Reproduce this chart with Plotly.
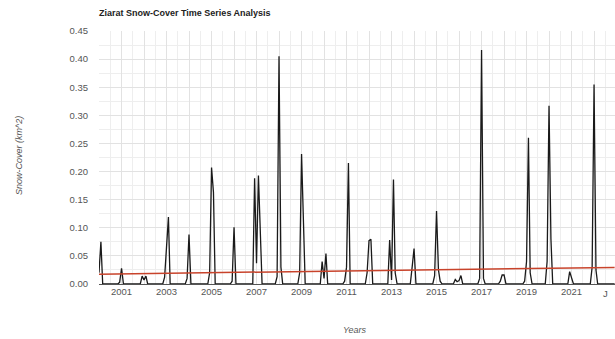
import pandas as pd
import plotly.graph_objects as go

# Monthly snow-cover values (km^2), Jan..Dec for each year
years = list(range(2000, 2023))
snow_2000 = [0.020, 0.075, 0, 0, 0, 0, 0, 0, 0, 0, 0, 0.003]
snow_2001 = [0.028, 0, 0, 0, 0, 0, 0, 0, 0, 0, 0, 0.014]
snow_2002 = [0.007, 0.014, 0, 0, 0, 0, 0, 0, 0, 0, 0, 0.012]
snow_2003 = [0.060, 0.119, 0, 0, 0, 0, 0, 0, 0, 0, 0, 0.010]
snow_2004 = [0.088, 0, 0, 0, 0, 0, 0, 0, 0, 0, 0, 0.020]
snow_2005 = [0.207, 0.163, 0, 0, 0, 0, 0, 0, 0, 0, 0, 0.005]
snow_2006 = [0.101, 0, 0, 0, 0, 0, 0, 0, 0, 0, 0, 0.188]
snow_2007 = [0.037, 0.193, 0.090, 0, 0, 0, 0, 0, 0, 0, 0, 0.013]
snow_2008 = [0.405, 0.030, 0, 0, 0, 0, 0, 0, 0, 0, 0, 0.020]
snow_2009 = [0.231, 0.110, 0, 0, 0, 0, 0, 0, 0, 0, 0, 0.040]
snow_2010 = [0.010, 0.054, 0, 0, 0, 0, 0, 0, 0, 0, 0, 0.005]
snow_2011 = [0.030, 0.215, 0, 0, 0, 0, 0, 0, 0, 0, 0, 0.020]
snow_2012 = [0.077, 0.0795, 0, 0, 0, 0, 0, 0, 0, 0, 0, 0.078]
snow_2013 = [0.007, 0.186, 0.020, 0, 0, 0, 0, 0, 0, 0, 0, 0.030]
snow_2014 = [0.063, 0, 0, 0, 0, 0, 0, 0, 0, 0, 0, 0.015]
snow_2015 = [0.130, 0.025, 0.005, 0, 0, 0, 0, 0, 0, 0, 0.008, 0.004]
snow_2016 = [0.006, 0.015, 0, 0, 0, 0, 0, 0, 0, 0, 0, 0.010]
snow_2017 = [0.416, 0.010, 0, 0, 0, 0, 0, 0, 0, 0, 0.005, 0.016]
snow_2018 = [0.016, 0, 0, 0, 0, 0, 0, 0, 0, 0, 0, 0.005]
snow_2019 = [0.040, 0.260, 0.020, 0, 0, 0, 0, 0, 0, 0, 0, 0.040]
snow_2020 = [0.317, 0.080, 0, 0, 0, 0, 0, 0, 0, 0, 0, 0.022]
snow_2021 = [0.010, 0, 0, 0, 0, 0, 0, 0, 0, 0, 0, 0.030]
snow_2022 = [0.355, 0.025, 0, 0, 0, 0, 0, 0, 0, 0, 0, 0]

yearly = [snow_2000, snow_2001, snow_2002, snow_2003, snow_2004, snow_2005,
          snow_2006, snow_2007, snow_2008, snow_2009, snow_2010, snow_2011,
          snow_2012, snow_2013, snow_2014, snow_2015, snow_2016, snow_2017,
          snow_2018, snow_2019, snow_2020, snow_2021, snow_2022]
snow_values = [v for yr in yearly for v in yr]
dates = pd.date_range("2000-01-01", periods=len(snow_values), freq="MS")

# Linear trend endpoints
trend_dates = ["2000-01-01", "2022-12-01"]
trend_values = [0.0175, 0.0295]

# Axis ticks
x_tick_dates = [f"{y}-01-01" for y in range(2001, 2023)]
x_tick_text = [str(y) if y % 2 == 1 else "" for y in range(2001, 2023)]
x_minor_dates = [f"{y}-07-01" for y in range(2000, 2023)]

font_family = "Liberation Sans, Arial, sans-serif"

fig = go.Figure()
fig.add_trace(go.Scatter(x=dates, y=snow_values, mode="lines",
                         line=dict(color="#1a1a1a", width=1.3),
                         showlegend=False))
fig.add_trace(go.Scatter(x=trend_dates, y=trend_values, mode="lines",
                         line=dict(color="#c8432b", width=1.5),
                         showlegend=False))

fig.update_layout(
    width=615, height=339,
    margin=dict(l=99, r=0, t=31, b=55),
    paper_bgcolor="white", plot_bgcolor="white",
    font=dict(family=font_family, size=9.5, color="#555555"),
    title=dict(text="<b>Ziarat Snow-Cover Time Series Analysis</b>",
               x=99/615, xanchor="left", xref="container",
               y=1 - 12.5/339, yanchor="middle", yref="container",
               font=dict(family=font_family, size=9, color="#222222")),
)
fig.update_xaxes(
    range=["2000-01-01", "2022-12-07"],
    tickmode="array", tickvals=x_tick_dates, ticktext=x_tick_text,
    showgrid=True, gridcolor="#e2e2e2", gridwidth=1,
    minor=dict(tickvals=x_minor_dates, showgrid=True, gridcolor="#eeeeee"),
    showline=False, zeroline=False, ticks="",
    tickfont=dict(size=9.5, color="#555555"),
)
fig.update_yaxes(
    range=[0, 0.45], dtick=0.05, tickformat=".2f",
    showgrid=True, gridcolor="#e2e2e2", gridwidth=1,
    minor=dict(dtick=0.025, showgrid=True, gridcolor="#eeeeee"),
    showline=False, zeroline=True, zerolinecolor="#555555", zerolinewidth=1,
    ticks="", ticklabelstandoff=10,
    tickfont=dict(size=9.5, color="#555555"),
)

fig.add_annotation(text="<i>Snow-Cover (km^2)</i>", xref="paper", yref="paper",
                   x=(19 - 99) / 516, y=(284 - 156) / 253, textangle=-90,
                   showarrow=False, xanchor="center", yanchor="middle",
                   font=dict(family=font_family, size=9, color="#555555"))
fig.add_annotation(text="<i>Years</i>", xref="paper", yref="paper",
                   x=(355 - 99) / 516, y=(284 - 330) / 253,
                   showarrow=False, xanchor="center", yanchor="middle",
                   font=dict(family=font_family, size=9, color="#555555"))
# Truncated final axis label at the right edge
fig.add_annotation(text="J", xref="x", yref="paper",
                   x="2022-07-01", y=(284 - 293.5) / 253,
                   showarrow=False, xanchor="center", yanchor="middle",
                   font=dict(family=font_family, size=9.5, color="#555555"))

fig.write_html("out.html",
               config={"displayModeBar": False},
               post_script="document.body.style.margin='0';document.body.style.padding='0';")
